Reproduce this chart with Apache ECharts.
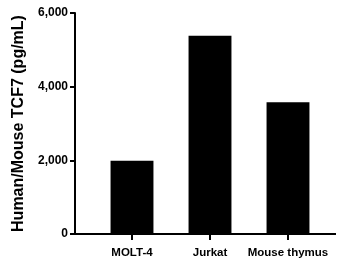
<!DOCTYPE html>
<html>
<head>
<meta charset="utf-8">
<script src="https://cdn.jsdelivr.net/npm/echarts@6/dist/echarts.min.js"></script>
<style>
  html, body { margin: 0; padding: 0; background: #fff; }
  #chart { width: 337px; height: 262px; }
</style>
</head>
<body>
<div id="chart"></div>
<script>
const categories = ['MOLT-4', 'Jurkat', 'Mouse thymus'];
const values = [1990, 5380, 3580];
const yTicks = [0, 2000, 4000, 6000];

const font = 'Liberation Sans, Arial, sans-serif';
const chart = echarts.init(document.getElementById('chart'));

const option = {
  animation: false,
  grid: { left: 93, right: 10, top: 13, bottom: 28 },
  xAxis: {
    type: 'category',
    data: categories,
    axisLine: { show: false },
    axisTick: { show: true, alignWithLabel: true, length: 6, lineStyle: { color: '#000', width: 2 } },
    axisLabel: { color: '#000', fontFamily: font, fontWeight: 'bold', fontSize: 11.5, margin: 13, interval: 0 },
  },
  yAxis: {
    type: 'value',
    min: yTicks[0],
    max: yTicks[yTicks.length - 1],
    interval: 2000,
    offset: 18,
    name: 'Human/Mouse TCF7 (pg/mL)',
    nameLocation: 'middle',
    nameGap: 46,
    nameTextStyle: { color: '#000', fontFamily: font, fontWeight: 'bold', fontSize: 16 },
    axisLine: { show: true, lineStyle: { color: '#000', width: 2 } },
    axisTick: { show: true, length: 5, lineStyle: { color: '#000', width: 2 } },
    splitLine: { show: false },
    axisLabel: {
      color: '#000', fontFamily: font, fontWeight: 'bold', fontSize: 12, margin: 7,
      formatter: v => v.toLocaleString('en-US')
    },
  },
  series: [{
    type: 'bar',
    data: values,
    barWidth: '55%',
    itemStyle: { color: '#000' },
  }],
};
chart.setOption(option);

// extend baseline from the offset y axis to the right edge (GraphPad style)
const y0 = chart.convertToPixel({ yAxisIndex: 0 }, 0);
chart.setOption({
  graphic: [{
    type: 'line',
    shape: { x1: 74, y1: y0, x2: 336, y2: y0 },
    style: { stroke: '#000', lineWidth: 2 },
  }],
});
</script>
</body>
</html>
